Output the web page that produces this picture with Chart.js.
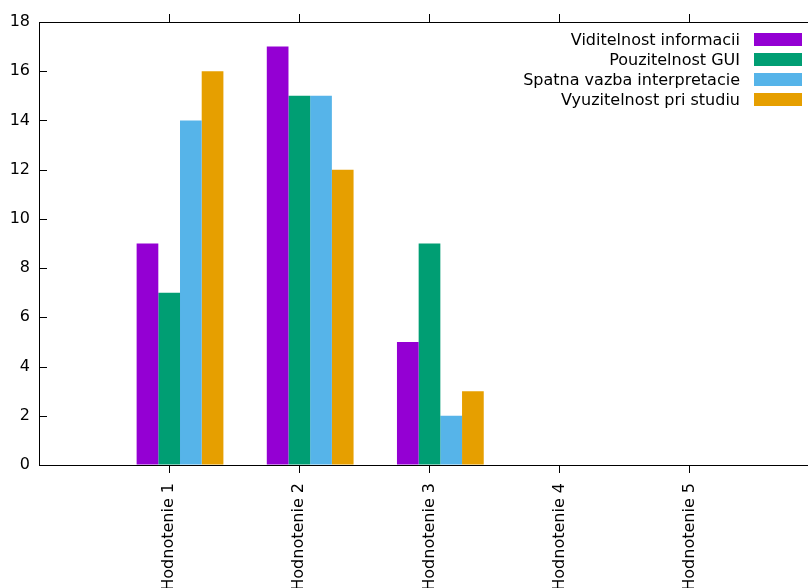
<!DOCTYPE html>
<html>
<head>
<meta charset="utf-8">
<script src="https://cdn.jsdelivr.net/npm/chart.js@4"></script>
<style>
html, body { margin:0; padding:0; background:#fff; overflow:hidden; }
#wrap { position:relative; width:820px; height:588px; }
#legend { position:absolute; top:30px; right:18px; font-family:"DejaVu Sans", sans-serif; font-size:16px; color:#000; }
#legend div { height:20px; line-height:20px; text-align:right; white-space:nowrap; }
#legend span { display:inline-block; width:48px; height:13px; margin-left:14px; vertical-align:-1px; }
</style>
</head>
<body>
<div id="wrap">
<canvas id="chart"></canvas>
<div id="legend"></div>
</div>
<script>
const categories = ["Hodnotenie 1", "Hodnotenie 2", "Hodnotenie 3", "Hodnotenie 4", "Hodnotenie 5"];
const seriesNames = ["Viditelnost informacii", "Pouzitelnost GUI", "Spatna vazba interpretacie", "Vyuzitelnost pri studiu"];
const viditelnost = [9, 17, 5, 0, 0];
const pouzitelnost = [7, 15, 9, 0, 0];
const spatnaVazba = [14, 15, 2, 0, 0];
const vyuzitelnost = [16, 12, 3, 0, 0];
const yTicks = [0, 2, 4, 6, 8, 10, 12, 14, 16, 18];
const colors = ["#9400d3", "#009e73", "#56b4e9", "#e69f00"];

// gnuplot puts the cluster a half bar right of the tick (4 bars + gap of 2)
const clusterShift = 0.5 / 6;

function points(values){
return values.map((v, i) => ({ x: i + 1 + clusterShift, y: v }));
}

const allSeries = [viditelnost, pouzitelnost, spatnaVazba, vyuzitelnost];

Chart.defaults.font.family = "'DejaVu Sans', sans-serif";
Chart.defaults.font.size = 16;
Chart.defaults.color = "#000";

const innerTicks = {
id: "innerTicks",
afterDraw(chart){
const ctx = chart.ctx;
const y = chart.scales.y;
ctx.save();
ctx.strokeStyle = "#000";
ctx.lineWidth = 1;
y.ticks.forEach((t, i)=>{
const py = Math.round(y.getPixelForTick(i)) + 0.5;
ctx.beginPath();
ctx.moveTo(chart.chartArea.left, py);
ctx.lineTo(chart.chartArea.left + 8, py);
ctx.stroke();
});
ctx.restore();
}
};

const keepCategoryTicks = scale => {
scale.ticks = scale.ticks.filter(t => t.value >= 1 && t.value <= categories.length);
};

new Chart(document.getElementById("chart"), {
type: "bar",
data: {
datasets: allSeries.map((s, i) => ({
label: seriesNames[i],
data: points(s),
backgroundColor: colors[i],
borderWidth: 0,
barPercentage: 1,
categoryPercentage: 4 / 6
}))
},
options: {
responsive: true,
maintainAspectRatio: false,
animation: false,
layout: { padding: 0 },
plugins: { legend: { display: false }, tooltip: { enabled: false } },
scales: {
x: {
type: "linear",
position: "bottom",
offset: false,
min: 0,
max: categories.length + 1,
afterBuildTicks: keepCategoryTicks,
afterFit: s => { s.height = 123; },
ticks: {
stepSize: 1,
autoSkip: false,
minRotation: 90,
maxRotation: 90,
padding: 10,
callback: v => categories[v - 1] || ""
},
grid: { offset: false, drawOnChartArea: false, drawTicks: true, tickLength: 8, color: "#000", lineWidth: 1 },
border: { display: true, color: "#000", width: 1 }
},
x2: {
type: "linear",
position: "top",
offset: false,
min: 0,
max: categories.length + 1,
afterBuildTicks: keepCategoryTicks,
afterFit: s => { s.height = 22; },
ticks: { display: false, stepSize: 1 },
grid: { offset: false, drawOnChartArea: false, drawTicks: true, tickLength: 8, color: "#000", lineWidth: 1 },
border: { display: true, color: "#000", width: 1 }
},
y: {
min: yTicks[0],
max: yTicks[yTicks.length - 1],
afterFit: s => { s.width = 39; },
afterBuildTicks: s => { s.ticks = yTicks.map(v => ({ value: v })); },
ticks: { padding: 9 },
grid: { display: true, drawOnChartArea: false, drawTicks: false },
border: { display: true, color: "#000", width: 1 }
}
}
},
plugins: [innerTicks]
});

let html = "";
seriesNames.forEach((n, i)=>{
html += `<div>${n}<span style="background:${colors[i]}"></span></div>`;
});
document.getElementById("legend").innerHTML = html;
</script>
</body>
</html>
